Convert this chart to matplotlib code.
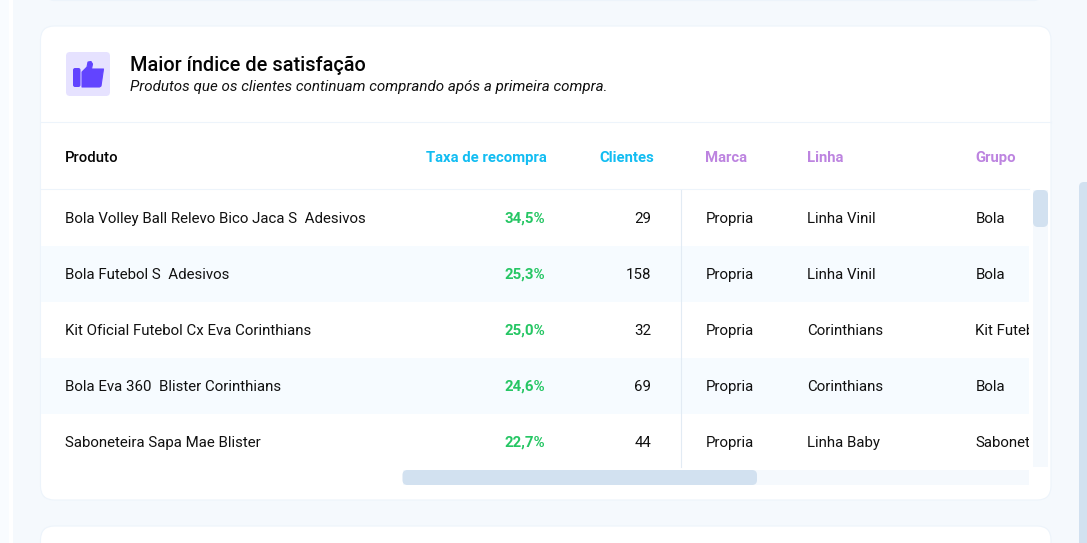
import matplotlib
matplotlib.use("Agg")
import matplotlib.pyplot as plt
from matplotlib.patches import FancyBboxPatch, Rectangle, Polygon

plt.rcParams['font.family'] = ['Roboto', 'DejaVu Sans']

produtos = ["Bola Volley Ball Relevo Bico Jaca S  Adesivos", "Bola Futebol S  Adesivos",
            "Kit Oficial Futebol Cx Eva Corinthians", "Bola Eva 360  Blister Corinthians",
            "Saboneteira Sapa Mae Blister"]
taxas = ["34,5%", "25,3%", "25,0%", "24,6%", "22,7%"]
clientes = [29, 158, 32, 69, 44]
marcas = ["Propria", "Propria", "Propria", "Propria", "Propria"]
linhas = ["Linha Vinil", "Linha Vinil", "Corinthians", "Corinthians", "Linha Baby"]
grupos = ["Bola", "Bola", "Kit Futebol", "Bola", "Saboneteira"]

BG = "#f5f9fd"
BORDER = "#edf4fb"
THUMB = "#d2e1f0"
BLUE = "#12bdf2"
PURPLE = "#bd84e0"
GREEN = "#26c664"
FS = 10.7  # header
FS_ROW = 10.85


def box(x0, y0, x1, y1, r, fc, ec="none", lw=0, z=1):
    p = FancyBboxPatch((x0 + r, y0 + r), x1 - x0 - 2 * r, y1 - y0 - 2 * r,
                       boxstyle="round,pad=%f,rounding_size=%f" % (r, r),
                       fc=fc, ec=ec, lw=lw, zorder=z)
    ax.add_patch(p)
    return p


fig = plt.figure(figsize=(10.87, 5.43), dpi=100, facecolor=BG)
ax = fig.add_axes([0, 0, 1, 1])
ax.set_xlim(0, 1087)
ax.set_ylim(543, 0)  # pixel coordinates, y going down
ax.axis("off")

# page background strips
ax.add_patch(Rectangle((0, 0), 9, 543, fc="#f9fcff", lw=0))
ax.add_patch(Rectangle((9, 0), 4, 543, fc="#ffffff", lw=0))
box(1079, 182, 1100, 570, 5, THUMB)

# neighbour cards
box(48, -30, 1040, 0.5, 6, "#f9fcfe", BORDER, 0.8)
box(40.5, 526, 1051, 580, 14, "white", BORDER, 0.8)

# main card
box(40.5, 26, 1051, 500, 14, "white", BORDER, 0.8)
ax.plot([41, 1051], [122, 122], color=BORDER, lw=0.8, zorder=2)
ax.plot([41, 1029], [189, 189], color=BORDER, lw=0.8, zorder=2)

# icon
box(66, 52, 110, 96, 4, "#e6e2ff")
box(73, 68, 80.5, 87, 2, "#6244ff", z=3)
ax.add_patch(Polygon([(82, 87), (82, 72), (87, 67), (88, 62), (91, 61.5), (92.5, 64),
                      (91.5, 69), (103.5, 69), (101, 86), (99.5, 87)],
                     closed=True, fc="#6244ff", ec="#6244ff", lw=0.8, joinstyle="round", zorder=3))

ax.text(129.5, 65.5, "Maior índice de satisfação", fontsize=14.3, weight="medium", color="#050505", va="center")
ax.text(129.5, 86.5, "Produtos que os clientes continuam comprando após a primeira compra.", fontsize=10.88,
        style="italic", color="#111111", va="center")

# table header
ax.text(65, 158, "Produto", fontsize=FS, weight="medium", color="#050505", va="center")
ax.text(547, 158, "Taxa de recompra", fontsize=FS, weight="bold", color=BLUE, va="center", ha="right")
ax.text(654, 158, "Clientes", fontsize=FS, weight="bold", color=BLUE, va="center", ha="right")
ax.text(705.4, 158, "Marca", fontsize=FS, weight="bold", color=PURPLE, va="center")
ax.text(807.4, 158, "Linha", fontsize=FS, weight="bold", color=PURPLE, va="center")
ax.text(975.4, 158, "Grupo", fontsize=FS, weight="bold", color=PURPLE, va="center")

# table rows
clip = Rectangle((41, 190), 988, 277, transform=ax.transData)
for i in range(len(produtos)):
    yc = 219 + 56 * i
    if i % 2 == 1:
        ax.add_patch(Rectangle((41, yc - 29), 988, 56, fc="#f6fbff", lw=0, zorder=1.5))
    ax.text(65, yc, produtos[i], fontsize=FS_ROW, color="#111111", va="center", zorder=3)
    ax.text(545, yc, taxas[i], fontsize=FS_ROW, weight="bold", color=GREEN, va="center", ha="right", zorder=3)
    ax.text(651, yc, str(clientes[i]), fontsize=FS_ROW, color="#111111", va="center", ha="right", zorder=3)
    ax.text(705.4, yc, marcas[i], fontsize=FS_ROW, color="#111111", va="center", zorder=3)
    ax.text(807.4, yc, linhas[i], fontsize=FS_ROW, color="#111111", va="center", zorder=3)
    t = ax.text(975.4, yc, grupos[i], fontsize=FS_ROW, color="#111111", va="center", zorder=3)
    t.set_clip_path(clip)
    t.set_clip_on(True)
ax.plot([681, 681], [190, 467], color="#e2ebf4", lw=0.8, zorder=2.5)

# scrollbars
ax.add_patch(Rectangle((1033, 190), 15, 277, fc=BG, lw=0, zorder=2))
box(1033, 190, 1048, 227, 5, THUMB, z=3)
ax.add_patch(Rectangle((403, 470), 626, 15, fc=BG, lw=0, zorder=2))
box(402.5, 470, 757, 485, 5, THUMB, z=3)

fig.savefig("out.png", dpi=100, facecolor=fig.get_facecolor())
